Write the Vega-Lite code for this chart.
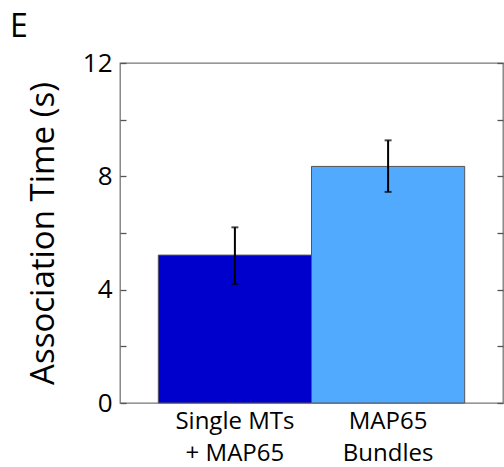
{
  "$schema": "https://vega.github.io/schema/vega-lite/v6.json",
  "width": 383,
  "height": 340,
  "autosize": {"type": "none"},
  "padding": {"left": 120, "top": 63, "right": 1, "bottom": 64},
  "background": "white",
  "title": {"text": "E", "anchor": "start", "frame": "group", "fontSize": 32, "font": "Open Sans", "fontWeight": "normal", "dx": -110, "offset": -19, "baseline": "alphabetic", "color": "black"},
  "config": {"view": {"stroke": "#777777", "strokeWidth": 1.3}, "font": "Open Sans"},
  "data": {"values": [
    {"group": "Single MTs|+ MAP65", "time": 5.22, "lo": 4.2, "hi": 6.2},
    {"group": "MAP65|Bundles", "time": 8.35, "lo": 7.45, "hi": 9.27}
  ]},
  "encoding": {
    "x": {"field": "group", "type": "nominal", "sort": null,
      "scale": {"paddingInner": 0, "paddingOuter": 0.25},
      "axis": {"title": null, "domain": false, "ticks": false, "labelAngle": 0, "labelFontSize": 24, "labelColor": "black", "labelPadding": 6, "labelExpr": "split(datum.label, '|')", "labelLineHeight": 32, "labelBaseline": "top", "labelFont": "Open Sans"}}
  },
  "layer": [
    {"mark": {"type": "bar", "stroke": "#555555", "strokeWidth": 1},
     "encoding": {
       "y": {"field": "time", "type": "quantitative", "scale": {"domain": [0, 12], "nice": false},
         "axis": {"orient": "left", "title": "Association Time (s)", "titleFontSize": 33, "titleFontWeight": "normal", "titleColor": "black", "titleFont": "Open Sans", "titlePadding": 22,
           "values": [0, 2, 4, 6, 8, 10, 12], "labelExpr": "datum.value % 4 === 0 ? datum.label : ''",
           "labelFontSize": 26, "labelColor": "black", "labelFont": "Open Sans", "tickSize": -6, "tickColor": "#555555", "tickWidth": 1.3, "domain": false, "grid": false, "labelPadding": 14}},
       "color": {"field": "group", "type": "nominal", "sort": null, "scale": {"range": ["#0000CD", "#52AAFF"]}, "legend": null}
     }},
    {"mark": {"type": "rule", "color": "black", "strokeWidth": 2},
     "encoding": {
       "y": {"field": "lo", "type": "quantitative", "scale": {"domain": [0, 12], "nice": false},
         "axis": {"orient": "right", "title": null, "values": [0, 2, 4, 6, 8, 10, 12], "labels": false, "tickSize": -6, "tickColor": "#555555", "tickWidth": 1.3, "domain": false, "grid": false}},
       "y2": {"field": "hi"}
     }},
    {"mark": {"type": "tick", "color": "black", "thickness": 2, "size": 7},
     "encoding": {"y": {"field": "lo", "type": "quantitative", "axis": null}}},
    {"mark": {"type": "tick", "color": "black", "thickness": 2, "size": 7},
     "encoding": {"y": {"field": "hi", "type": "quantitative", "axis": null}}}
  ],
  "resolve": {"axis": {"y": "independent"}}
}
